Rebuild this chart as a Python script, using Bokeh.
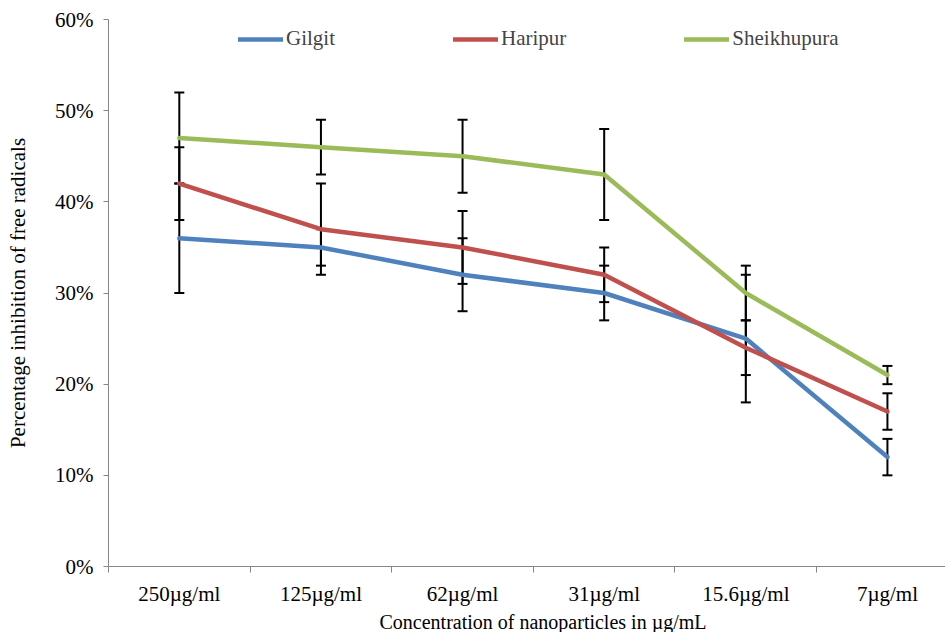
from bokeh.plotting import figure
from bokeh.models import (ColumnDataSource, Whisker, TeeHead, FixedTicker, PrintfTickFormatter,
                          Range1d, Legend, LegendItem, Title)
from bokeh.embed import file_html
from bokeh.resources import INLINE

categories = ["250\u00b5g/ml", "125\u00b5g/ml", "62\u00b5g/ml", "31\u00b5g/ml", "15.6\u00b5g/ml", "7\u00b5g/ml"]
series_names = ["Gilgit", "Haripur", "Sheikhupura"]
gilgit = [36, 35, 32, 30, 25, 12]
gilgit_err = [6, 2, 4, 3, 7, 2]
haripur = [42, 37, 35, 32, 24, 17]
haripur_err = [4, 5, 4, 3, 3, 2]
sheikhupura = [47, 46, 45, 43, 30, 21]
sheikhupura_err = [5, 3, 4, 5, 3, 1]
y_ticks = [0, 10, 20, 30, 40, 50, 60]
colors = ["#4F81BD", "#C0504D", "#9BBB59"]

FONT = "Liberation Serif"
FS = "21px"

n = len(categories)
centers = [i + 0.5 for i in range(n)]
bounds = list(range(n + 1))

p = figure(width=945, height=632, output_backend="svg", toolbar_location=None,
           x_range=Range1d(0, 5.91), y_range=Range1d(0, 60),
           min_border_left=108, min_border_right=0, min_border_top=19, min_border_bottom=66)
p.outline_line_color = None
p.xgrid.visible = False
p.ygrid.visible = False
p.background_fill_color = "white"
p.border_fill_color = "white"

series = [(gilgit, gilgit_err), (haripur, haripur_err), (sheikhupura, sheikhupura_err)]

# error bars (drawn first, lines on top)
for vals, errs in series:
    src = ColumnDataSource(dict(x=centers,
                                upper=[v + e for v, e in zip(vals, errs)],
                                lower=[v - e for v, e in zip(vals, errs)]))
    w = Whisker(source=src, base="x", upper="upper", lower="lower", dimension="height",
                line_color="black", line_width=2,
                upper_head=TeeHead(size=10, line_color="black", line_width=2),
                lower_head=TeeHead(size=10, line_color="black", line_width=2))
    p.add_layout(w)

items = []
for (vals, errs), name, col in zip(series, series_names, colors):
    r = p.line(centers, vals, line_color=col, line_width=4.5, line_cap="round", line_join="round")
    items.append(LegendItem(label=name, renderers=[r]))

legend = Legend(items=items, orientation="horizontal", location=(130, 515),
                spacing=118, padding=0, margin=0, glyph_width=45, glyph_height=20,
                label_standoff=3, label_text_font=FONT, label_text_font_size=FS,
                background_fill_alpha=0, border_line_alpha=0)
p.add_layout(legend)

# x axis
xa = p.xaxis[0]
xa.ticker = FixedTicker(ticks=centers, minor_ticks=bounds)
xa.major_label_overrides = {c: lab for c, lab in zip(centers, categories)}
xa.major_tick_out = 0
xa.major_tick_in = 0
xa.minor_tick_out = 6
xa.minor_tick_in = 0
xa.minor_tick_line_color = "#868686"
xa.axis_line_color = "#868686"
xa.major_label_text_font = FONT
xa.major_label_text_font_size = FS
xa.major_label_text_color = "black"
xa.major_label_standoff = 9

# y axis
ya = p.yaxis[0]
ya.ticker = FixedTicker(ticks=y_ticks)
ya.formatter = PrintfTickFormatter(format="%d%%")
ya.major_tick_out = 5
ya.major_tick_in = 0
ya.minor_tick_out = 0
ya.minor_tick_in = 0
ya.major_tick_line_color = "#868686"
ya.axis_line_color = "#868686"
ya.major_label_text_font = FONT
ya.major_label_text_font_size = FS
ya.major_label_text_color = "black"
ya.major_label_standoff = 10
ya.axis_label = "Percentage inhibition of free radicals"
ya.axis_label_text_font = FONT
ya.axis_label_text_font_size = FS
ya.axis_label_text_font_style = "normal"
ya.axis_label_text_color = "black"
ya.axis_label_standoff = 22

xt = Title(text="Concentration of nanoparticles in \u00b5g/mL", align="left", offset=271,
           text_font=FONT, text_font_size="20px", text_font_style="normal", text_color="black",
           standoff=0)
p.add_layout(xt, "below")

html = file_html(p, INLINE)
open("out.html", "w").write(html)
